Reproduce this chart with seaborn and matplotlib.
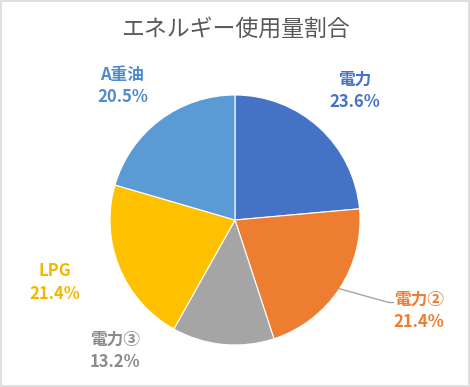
import numpy as np
import matplotlib
matplotlib.use("Agg")
import matplotlib.pyplot as plt
import seaborn as sns

# データ
labels = ['電力', '電力②', '電力③', 'LPG', 'A重油']
values = [23.6, 21.4, 13.2, 21.4, 20.5]
colors = ['#4472C4', '#ED7D31', '#A5A5A5', '#FFC000', '#5B9BD5']
label_colors = ['#4472C4', '#ED7D31', '#8C8C8C', '#F2B800', '#4F8CC9']

# ラベル位置 (データ座標、半径=1)
label_pos = [(0.96, 1.03), (1.47, -0.73), (-0.96, -1.05), (-1.44, -0.50), (-0.90, 1.07)]

sns.set_theme(style='white')
plt.rcParams['font.family'] = ['Noto Sans CJK JP', 'DejaVu Sans']

fig = plt.figure(figsize=(4.7, 3.87), dpi=100)
ax = fig.add_axes([0, 0, 1, 1])

wedges, _ = ax.pie(values, colors=colors, startangle=90, counterclock=False,
                   radius=1.0, wedgeprops=dict(edgecolor='white', linewidth=0.8))

ax.set_xlim(-1.88, 1.88)
ax.set_ylim(-1.336, 1.76)
ax.set_aspect('auto')
ax.axis('off')

for lab, v, c, (x, y) in zip(labels, values, label_colors, label_pos):
    ax.text(x, y, f'{lab}\n{v:.1f}%', ha='center', va='center', color=c,
            fontsize=12, fontweight='bold', linespacing=1.3)

# 電力② の引き出し線
w = wedges[1]
ang = np.deg2rad((w.theta1 + w.theta2) / 2)
ex, ey = np.cos(ang), np.sin(ang)
ax.plot([ex, 1.23, 1.27], [ey, -0.66, -0.66], color='#A6A6A6', linewidth=1)

fig.text(0.5, 0.925, 'エネルギー使用量割合', ha='center', va='center',
         fontsize=16.5, color='#595959')

# 外枠
fig.patches.append(plt.Rectangle((0.002, 0.002), 0.996, 0.996, transform=fig.transFigure,
                                 fill=False, edgecolor='#D9D9D9', linewidth=1.2))

fig.savefig('out.png', dpi=100)
